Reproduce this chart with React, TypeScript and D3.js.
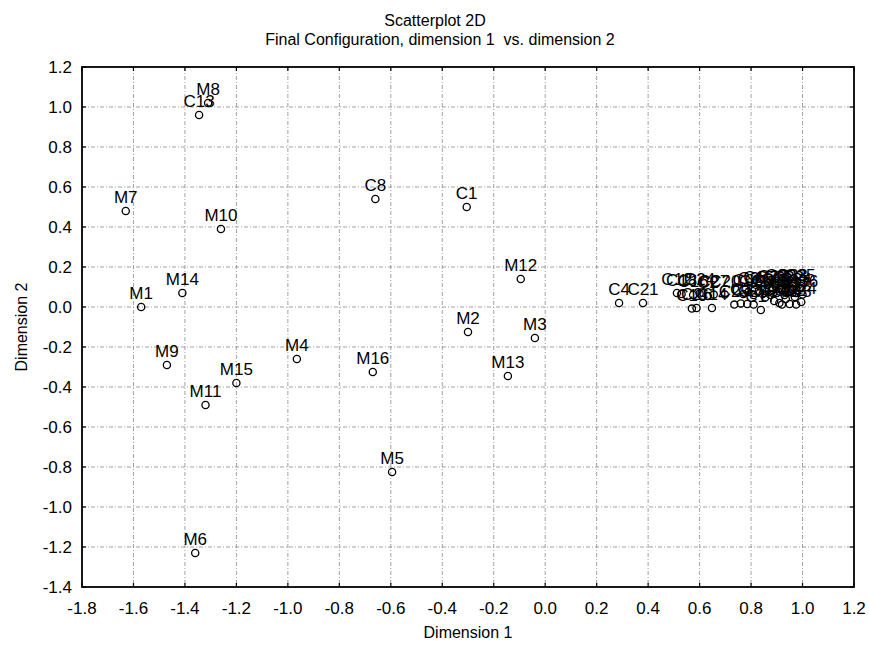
import React from "react";
import * as d3 from "d3";

// M points
const mLabels = ["M1", "M2", "M3", "M4", "M5", "M6", "M7", "M8", "M9", "M10", "M11", "M12", "M13", "M14", "M15", "M16"];
const mX = [-1.57, -0.3, -0.04, -0.965, -0.595, -1.36, -1.63, -1.31, -1.47, -1.26, -1.32, -0.095, -0.145, -1.41, -1.2, -0.67];
const mY = [0.0, -0.125, -0.155, -0.26, -0.825, -1.23, 0.48, 1.02, -0.29, 0.39, -0.49, 0.14, -0.345, 0.07, -0.38, -0.325];

// C points (right cluster is estimated, labels overlap heavily)
const cLabels = [
  "C1", "C8", "C13", "C4", "C21", "C12", "C18", "C16", "C24", "C2", "C27", "C19", "C26", "C14", "C20",
  "C29", "C3", "C23", "C25", "C17", "C6", "C9", "C11", "C15", "C5", "C7", "C10", "C22", "C28", "C30",
  "C31", "C32", "C33", "C34", "C35", "C36", "C37", "C38", "C39", "C40", "C41", "C42", "C43", "C44", "C45",
];
const cX = [
  -0.305, -0.66, -1.345, 0.287, 0.38, 0.512, 0.53, 0.575, 0.6, 0.632, 0.655, 0.57, 0.588, 0.648, 0.698,
  0.735, 0.76, 0.785, 0.81, 0.838, 0.77, 0.79, 0.81, 0.83, 0.845, 0.86, 0.875, 0.885, 0.9, 0.915,
  0.93, 0.945, 0.96, 0.975, 0.99, 1.0, 0.97, 0.855, 0.89, 0.91, 0.935, 0.95, 0.975, 0.995, 0.92,
];
const cY = [
  0.5, 0.54, 0.96, 0.02, 0.02, 0.07, 0.065, 0.06, 0.068, 0.055, 0.062, -0.008, -0.005, -0.005, 0.062,
  0.012, 0.018, 0.015, 0.012, -0.015, 0.065, 0.075, 0.06, 0.08, 0.065, 0.078, 0.06, 0.085, 0.07, 0.088,
  0.06, 0.078, 0.09, 0.07, 0.092, 0.062, 0.05, 0.048, 0.03, 0.02, 0.04, 0.015, 0.012, 0.025, 0.012,
];

const xTicks = [-1.8, -1.6, -1.4, -1.2, -1.0, -0.8, -0.6, -0.4, -0.2, 0.0, 0.2, 0.4, 0.6, 0.8, 1.0, 1.2];
const yTicks = [1.2, 1.0, 0.8, 0.6, 0.4, 0.2, 0.0, -0.2, -0.4, -0.6, -0.8, -1.0, -1.2, -1.4];

const W = 869;
const H = 646;
const left = 82;
const right = 854;
const top = 67;
const bottom = 587;
const font = "'Liberation Sans', Arial, Helvetica, sans-serif";

export default function App() {
  const x = d3.scaleLinear().domain([-1.8, 1.2]).range([left, right]);
  const y = d3.scaleLinear().domain([-1.4, 1.2]).range([bottom, top]);
  // plain hyphen, like the original
  const fmt = (v: number) => v.toFixed(1);

  const points = [
    ...mLabels.map((l, i) => ({ label: l, x: mX[i], y: mY[i] })),
    ...cLabels.map((l, i) => ({ label: l, x: cX[i], y: cY[i] })),
  ];

  return (
    <svg
      width={W}
      height={H}
      style={{ position: "absolute", left: 0, top: 0, background: "#fff" }}
      fontFamily={font}
    >
      <text x={435} y={26} textAnchor="middle" fontSize={16}>
        Scatterplot 2D
      </text>
      <text x={440} y={45} textAnchor="middle" fontSize={16} style={{ whiteSpace: "pre" }}>
        {"Final Configuration, dimension 1  vs. dimension 2"}
      </text>

      {/* grid */}
      <g stroke="#8a8a8a" strokeWidth={0.8} strokeDasharray="4,2,1,2">
        {xTicks.slice(1, -1).map((t) => (
          <line key={"gx" + t} x1={x(t)} x2={x(t)} y1={top} y2={bottom} />
        ))}
        {yTicks.slice(1, -1).map((t) => (
          <line key={"gy" + t} x1={left} x2={right} y1={y(t)} y2={y(t)} />
        ))}
      </g>

      {/* inward ticks */}
      <g stroke="#000" strokeWidth={1.2}>
        {xTicks.map((t) => (
          <g key={"tx" + t}>
            <line x1={x(t)} x2={x(t)} y1={bottom} y2={bottom - 4} />
            <line x1={x(t)} x2={x(t)} y1={top} y2={top + 4} />
          </g>
        ))}
        {yTicks.map((t) => (
          <g key={"ty" + t}>
            <line x1={left} x2={left + 4} y1={y(t)} y2={y(t)} />
            <line x1={right} x2={right - 4} y1={y(t)} y2={y(t)} />
          </g>
        ))}
      </g>

      <rect x={left} y={top} width={right - left} height={bottom - top} fill="none" stroke="#000" strokeWidth={1.8} />

      {/* tick labels */}
      <g fontSize={17} fill="#000">
        {xTicks.map((t) => (
          <text key={"lx" + t} x={x(t)} y={614} textAnchor="middle">
            {fmt(t)}
          </text>
        ))}
        {yTicks.map((t) => (
          <text key={"ly" + t} x={72} y={y(t)} dy="0.36em" textAnchor="end">
            {fmt(t)}
          </text>
        ))}
      </g>

      <text x={(left + right) / 2} y={638} textAnchor="middle" fontSize={16}>
        Dimension 1
      </text>
      <text
        transform={`translate(27,${(top + bottom) / 2}) rotate(-90)`}
        textAnchor="middle"
        fontSize={16}
      >
        Dimension 2
      </text>

      {/* points */}
      <g>
        {points.map((p, i) => (
          <g key={"p" + i}>
            <circle cx={x(p.x)} cy={y(p.y)} r={3.6} fill="none" stroke="#000" strokeWidth={1.3} />
            <text x={x(p.x)} y={y(p.y) - 8} textAnchor="middle" fontSize={17} fill="#000">
              {p.label}
            </text>
          </g>
        ))}
      </g>
    </svg>
  );
}
